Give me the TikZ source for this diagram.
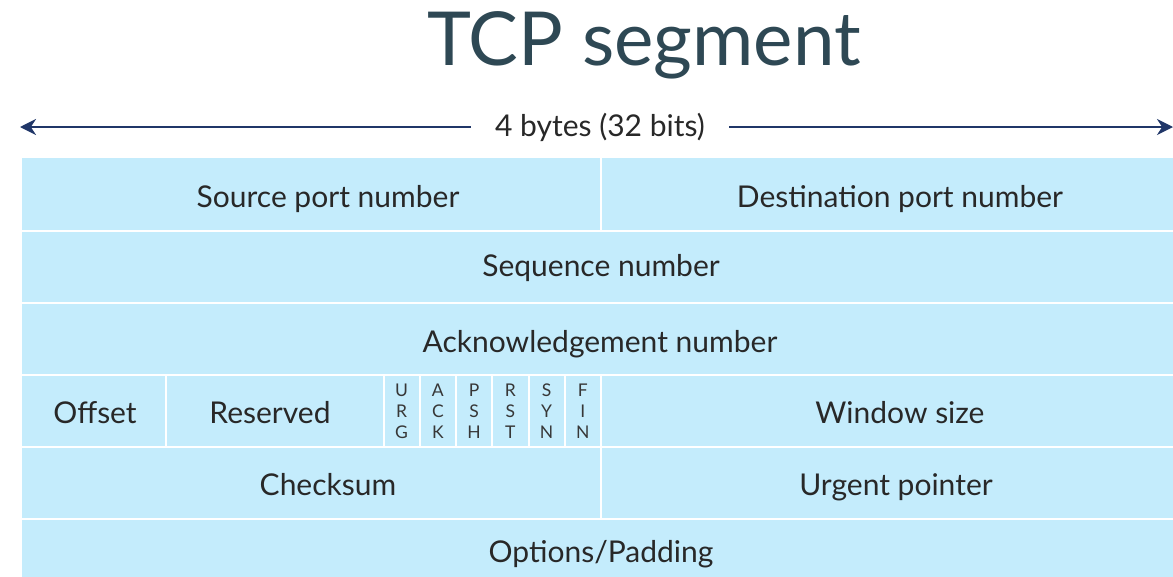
\documentclass[tikz,border=0pt]{standalone}
\usepackage{fontspec}
\setmainfont{Lato}
\usetikzlibrary{arrows.meta}
\definecolor{cellblue}{RGB}{196,236,252}
\definecolor{txtc}{RGB}{40,40,40}
\definecolor{navyc}{RGB}{32,54,104}
\definecolor{titlec}{RGB}{46,72,84}
\definecolor{flagc}{RGB}{55,55,55}
\begin{document}
\begin{tikzpicture}[x=1pt,y=-1pt,
  cellbox/.style={rectangle, fill=cellblue, draw=white, line width=2pt, inner sep=0pt},
  celltxt/.style={anchor=base, inner sep=0pt, text=txtc, font=\fontsize{30}{34}\selectfont},
  flagbox/.style={cellbox, align=center, text=flagc, font=\fontsize{17.5}{21}\selectfont},
  lbl/.style={fill=white, text=txtc, font=\fontsize{30}{34}\selectfont, inner xsep=24pt, inner ysep=2pt}]
\useasboundingbox (0,0) rectangle (1173,576);
\clip (0,0) rectangle (1173,576);
% title
\node[anchor=base, text=titlec, font=\fontsize{74.5}{80}\selectfont, inner sep=0pt] (title) at (644,65) {TCP segment};
% width arrow
\coordinate (aL) at (20,127);
\coordinate (aR) at (1173,127);
\draw[navyc, line width=2.4pt, {Stealth[length=16pt,width=16pt]}-{Stealth[length=16pt,width=16pt]}] (aL) -- (aR);
\node[lbl] (width) at (600,127) {4 bytes (32 bits)};
% row 1
\node[cellbox, minimum width=580pt, minimum height=74pt] (src) at (311,194) {};
\node[cellbox, minimum width=580pt, minimum height=74pt] (dst) at (891,194) {};
\node[celltxt] (srcT) at (328,207) {Source port number};
\node[celltxt] (dstT) at (900,207) {Destination port number};
% row 2
\node[cellbox, minimum width=1160pt, minimum height=72pt] (seq) at (601,267) {};
\node[celltxt] (seqT) at (601,276) {Sequence number};
% row 3
\node[cellbox, minimum width=1160pt, minimum height=72pt] (ack) at (601,339) {};
\node[celltxt] (ackT) at (600,352) {Acknowledgement number};
% row 4
\node[cellbox, minimum width=145pt, minimum height=72pt] (off) at (93.5,411) {};
\node[cellbox, minimum width=217.5pt, minimum height=72pt] (res) at (274.75,411) {};
\node[celltxt] (offT) at (95,423) {Offset};
\node[celltxt] (resT) at (270,423) {Reserved};
\node[flagbox, minimum width=36.25pt, minimum height=72pt] (urg) at (401.625,411) {U\\R\\G};
\node[flagbox, minimum width=36.25pt, minimum height=72pt] (ackf) at (437.875,411) {A\\C\\K};
\node[flagbox, minimum width=36.25pt, minimum height=72pt] (psh) at (474.125,411) {P\\S\\H};
\node[flagbox, minimum width=36.25pt, minimum height=72pt] (rst) at (510.375,411) {R\\S\\T};
\node[flagbox, minimum width=36.25pt, minimum height=72pt] (syn) at (546.625,411) {S\\Y\\N};
\node[flagbox, minimum width=36.25pt, minimum height=72pt] (fin) at (582.875,411) {F\\I\\N};
\node[cellbox, minimum width=580pt, minimum height=72pt] (win) at (891,411) {};
\node[celltxt] (winT) at (900,423) {Window size};
% row 5
\node[cellbox, minimum width=580pt, minimum height=72pt] (chk) at (311,483) {};
\node[cellbox, minimum width=580pt, minimum height=72pt] (urp) at (891,483) {};
\node[celltxt] (chkT) at (328,495) {Checksum};
\node[celltxt] (urpT) at (896,495) {Urgent pointer};
% row 6
\node[cellbox, minimum width=1160pt, minimum height=72pt] (opt) at (601,555) {};
\node[celltxt] (optT) at (601,562) {Options/Padding};
\end{tikzpicture}
\end{document}
